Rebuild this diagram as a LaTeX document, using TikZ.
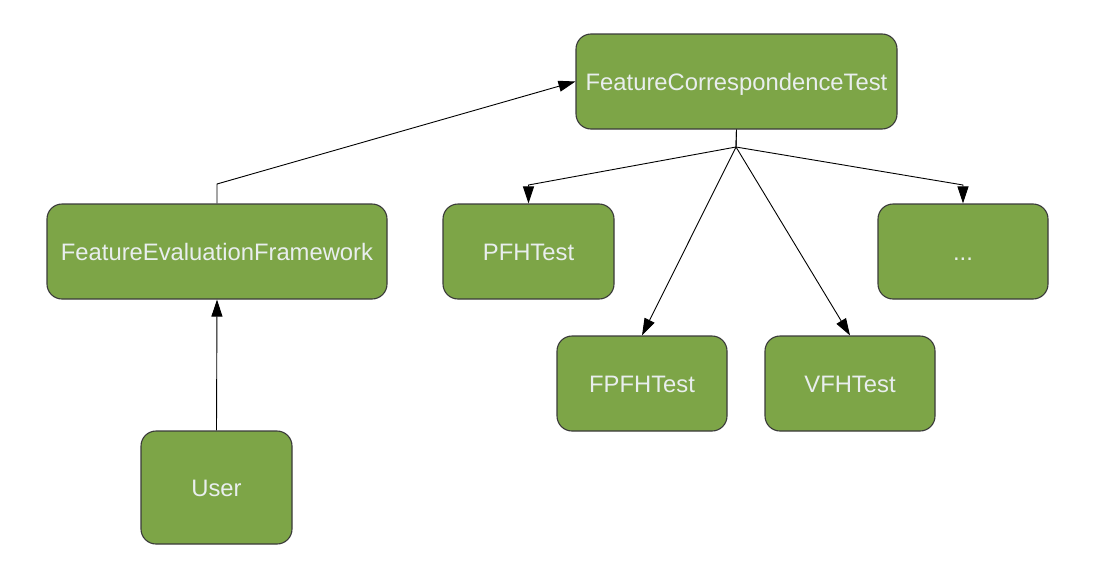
\documentclass[tikz,border=0pt]{standalone}
\usepackage{fontspec}
\setmainfont{Liberation Sans}
\usetikzlibrary{arrows.meta}
\definecolor{boxgreen}{HTML}{7DA547}
\definecolor{boxline}{HTML}{3A3A3A}
\definecolor{boxtext}{HTML}{E9EEEE}
\begin{document}
\begin{tikzpicture}[x=1pt,y=-1pt,
  box/.style={draw=boxline,line width=1.1pt,fill=boxgreen,rounded corners=15pt,
    text=boxtext,font=\fontsize{23.8}{27}\selectfont,inner sep=0pt,anchor=center,
    text height=17pt,text depth=0pt},
  conn/.style={draw=black,line width=0.9pt,-{Triangle[length=17pt,width=11pt]}}]
\useasboundingbox (0,0) rectangle (1094,570);
\node[box,minimum width=321pt,minimum height=95pt] (fct) at (736.5,81.5) {FeatureCorrespondenceTest};
\node[box,minimum width=340pt,minimum height=95pt] (fef) at (217,251.5) {FeatureEvaluationFramework};
\node[box,minimum width=171pt,minimum height=95pt] (pfh) at (528.5,251.5) {PFHTest};
\node[box,minimum width=170pt,minimum height=95pt] (dots) at (963,251.5) {...};
\node[box,minimum width=170pt,minimum height=95pt] (fpfh) at (642,383.5) {FPFHTest};
\node[box,minimum width=170pt,minimum height=95pt] (vfh) at (850,383.5) {VFHTest};
\node[box,minimum width=151pt,minimum height=113pt] (user) at (216.5,487.5) {User};
\coordinate (split) at (736,147);
\coordinate (pfhbend) at (528.5,185);
\coordinate (dotsbend) at (963,185);
\coordinate (fefbend) at (217,184);
\draw[conn] (fct.south) -- (split) -- (pfhbend) -- (pfh.north);
\draw[conn] (fct.south) -- (split) -- (dotsbend) -- (dots.north);
\draw[conn] (split) -- (fpfh.north);
\draw[conn] (split) -- (vfh.north);
\draw[conn] (fef.north) -- (fefbend) -- (fct.west);
\draw[conn] (user.north) -- (fef.south);
\end{tikzpicture}
\end{document}
